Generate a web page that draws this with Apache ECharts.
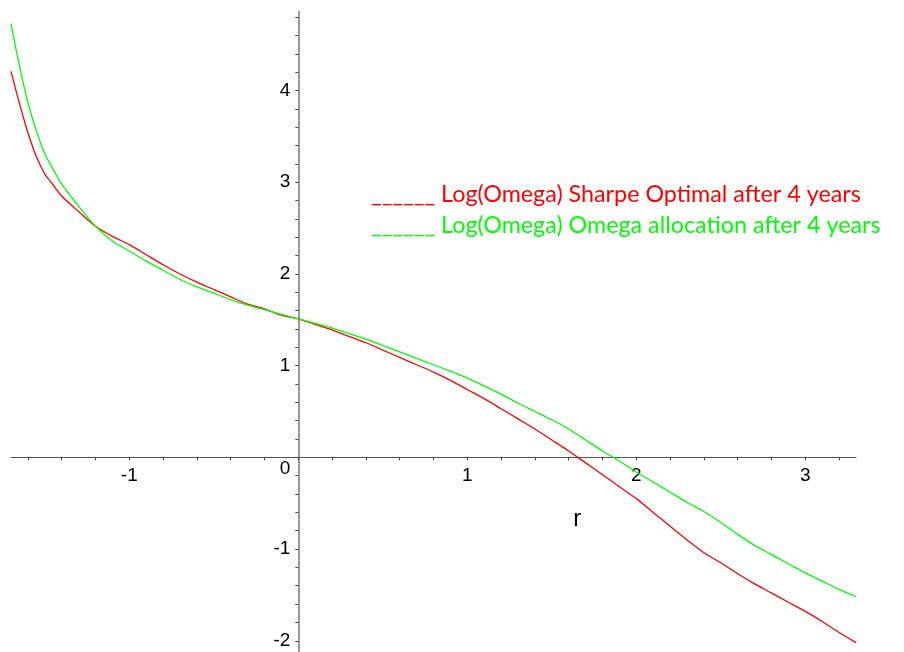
<!DOCTYPE html>
<html>
<head>
<meta charset="utf-8">
<script src="https://cdn.jsdelivr.net/npm/echarts@6/dist/echarts.min.js"></script>
<style>
html,body{margin:0;padding:0;background:#fff;}
#chart{width:904px;height:652px;}
</style>
</head>
<body>
<div id="chart"></div>
<script>
// r values (x axis)
var rValues = [-1.70,-1.65,-1.60,-1.55,-1.50,-1.45,-1.40,-1.30,-1.20,-1.10,-1.00,-0.90,-0.80,-0.70,-0.60,-0.50,-0.40,-0.30,-0.20,-0.10,0.00,0.10,0.20,0.30,0.40,0.50,0.60,0.70,0.80,0.90,1.00,1.10,1.20,1.30,1.40,1.50,1.60,1.70,1.80,1.90,2.00,2.10,2.20,2.30,2.40,2.50,2.60,2.70,2.80,2.90,3.00,3.10,3.20,3.30];
// Log(Omega) Sharpe Optimal after 4 years
var sharpeValues = [4.21,3.86,3.54,3.28,3.09,2.97,2.85,2.68,2.52,2.41,2.32,2.21,2.10,2.00,1.91,1.83,1.75,1.67,1.62,1.55,1.51,1.45,1.39,1.32,1.25,1.17,1.09,1.01,0.93,0.84,0.74,0.64,0.53,0.42,0.31,0.19,0.07,-0.06,-0.19,-0.32,-0.45,-0.60,-0.75,-0.90,-1.04,-1.15,-1.27,-1.38,-1.48,-1.58,-1.68,-1.79,-1.91,-2.02];
// Log(Omega) Omega allocation after 4 years
var omegaValues = [4.73,4.27,3.87,3.56,3.31,3.14,2.98,2.74,2.52,2.36,2.25,2.14,2.04,1.94,1.86,1.79,1.72,1.66,1.61,1.56,1.51,1.46,1.41,1.35,1.29,1.22,1.15,1.08,1.01,0.94,0.865,0.78,0.69,0.59,0.50,0.41,0.31,0.19,0.07,-0.04,-0.16,-0.27,-0.38,-0.49,-0.59,-0.71,-0.84,-0.96,-1.06,-1.16,-1.26,-1.35,-1.44,-1.52];
var seriesNames = ['Log(Omega) Sharpe Optimal after 4 years','Log(Omega) Omega allocation after 4 years'];
var seriesColors = ['#ff0000','#00ff00'];
var xAxisName = 'r';
// tick positions and labels
var xTickValues = [-1.6,-1.4,-1.2,-1.0,-0.8,-0.6,-0.4,-0.2,0.0,0.2,0.4,0.6,0.8,1.0,1.2,1.4,1.6,1.8,2.0,2.2,2.4,2.6,2.8,3.0,3.2];
var xLabelValues = [-1,1,2,3];
var yTickValues = [-2.0,-1.8,-1.6,-1.4,-1.2,-1.0,-0.8,-0.6,-0.4,-0.2,0.0,0.2,0.4,0.6,0.8,1.0,1.2,1.4,1.6,1.8,2.0,2.2,2.4,2.6,2.8,3.0,3.2,3.4,3.6,3.8,4.0,4.2,4.4,4.6,4.8];
var yLabelValues = [-2,-1,0,1,2,3,4];

var X_MIN=-1.7, X_MAX=3.3, Y_MIN=-2.2, Y_MAX=4.86;
var G_LEFT=11, G_TOP=11.7, PX_X=169, PX_Y=91.7;
var G_W=(X_MAX-X_MIN)*PX_X, G_H=(Y_MAX-Y_MIN)*PX_Y;
var ZERO_X=G_LEFT+(0-X_MIN)*PX_X, ZERO_Y=G_TOP+(Y_MAX-0)*PX_Y;

function pairs(xs, ys){ return xs.map(function(x,i){ return [x, ys[i]]; }); }

var chart = echarts.init(document.getElementById('chart'), null, {renderer:'canvas'});
var labelFont = 'Liberation Sans';
function hidden(o){
  return Object.assign({type:'value', show:false, axisLine:{show:false}, axisTick:{show:false}, axisLabel:{show:false}, splitLine:{show:false}}, o);
}
chart.setOption({
  animation:false,
  backgroundColor:'#ffffff',
  grid:[
    {left:G_LEFT, top:G_TOP, width:G_W, height:G_H, containLabel:false, outerBoundsMode:'none'},
    {left:G_LEFT, top:G_TOP, width:G_W, height:ZERO_Y-G_TOP, containLabel:false, outerBoundsMode:'none'},
    {left:ZERO_X, top:G_TOP, width:G_LEFT+G_W-ZERO_X, height:G_H, containLabel:false, outerBoundsMode:'none'}
  ],
  legend:{
    orient:'vertical', left:361, top:178, itemGap:8, icon:'none', itemWidth:0, itemHeight:0,
    selectedMode:false,
    formatter:function(n){ return '______ ' + n; },
    textStyle:{fontFamily:'Lato', fontSize:23.3},
    data:[
      {name:seriesNames[0], textStyle:{color:seriesColors[0]}},
      {name:seriesNames[1], textStyle:{color:seriesColors[1]}}
    ]
  },
  xAxis:[
    hidden({gridIndex:0, min:X_MIN, max:X_MAX}),
    {
      gridIndex:1, type:'value', min:X_MIN, max:X_MAX, position:'bottom',
      name:xAxisName, nameLocation:'middle', nameGap:50,
      nameTextStyle:{fontFamily:labelFont, fontSize:24, color:'#000', padding:[0,0,0,2*((1.65-(X_MIN+X_MAX)/2)*PX_X)]},
      axisLine:{show:true, onZero:false, lineStyle:{color:'#555', width:1}},
      axisTick:{show:true, inside:false, length:3, customValues:xTickValues, lineStyle:{color:'#444'}},
      splitLine:{show:false},
      axisLabel:{
        fontFamily:labelFont, fontSize:19, color:'#000', margin:9,
        customValues:xLabelValues,
        formatter:function(v){ return String(Math.round(v)); }
      }
    },
    hidden({gridIndex:2, min:0, max:X_MAX})
  ],
  yAxis:[
    hidden({gridIndex:0, min:Y_MIN, max:Y_MAX}),
    hidden({gridIndex:1, min:0, max:Y_MAX}),
    {
      gridIndex:2, type:'value', min:Y_MIN, max:Y_MAX, position:'left',
      axisLine:{show:true, onZero:false, lineStyle:{color:'#999', width:2}},
      axisTick:{show:true, inside:false, length:3, customValues:yTickValues, lineStyle:{color:'#444'}},
      splitLine:{show:false},
      axisLabel:{
        fontFamily:labelFont, fontSize:19, color:'#000', margin:8,
        customValues:yLabelValues,
        formatter:function(v){
          var n = Math.round(v);
          return n===0 ? '{z|0}' : String(n);
        },
        rich:{z:{fontFamily:labelFont, fontSize:19, color:'#000', padding:[22,0,0,0]}}
      }
    }
  ],
  series:[
    {name:seriesNames[0], type:'line', xAxisIndex:0, yAxisIndex:0, data:pairs(rValues, sharpeValues), showSymbol:false, smooth:0.3,
     lineStyle:{color:seriesColors[0], width:1.3}, itemStyle:{color:seriesColors[0]}},
    {name:seriesNames[1], type:'line', xAxisIndex:0, yAxisIndex:0, data:pairs(rValues, omegaValues), showSymbol:false, smooth:0.3,
     lineStyle:{color:seriesColors[1], width:1.3}, itemStyle:{color:seriesColors[1]}}
  ]
});
</script>
</body>
</html>
